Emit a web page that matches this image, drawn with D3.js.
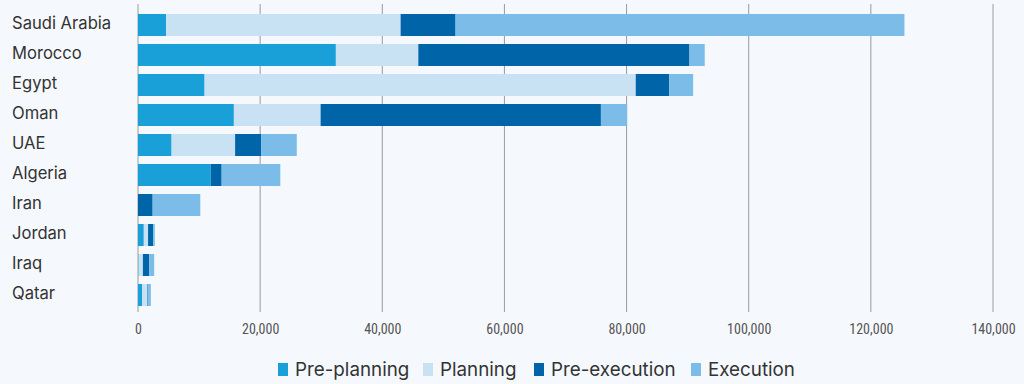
<!DOCTYPE html>
<html><head><meta charset="utf-8">
<script src="https://cdn.jsdelivr.net/npm/d3@7"></script>
<style>
html,body{margin:0;padding:0;background:#f5f9fd;}
svg{display:block;}
</style></head><body>
<svg id="c" width="1024" height="384"></svg>
<script>
const countries = ["Saudi Arabia","Morocco","Egypt","Oman","UAE","Algeria","Iran","Jordan","Iraq","Qatar"];
const seriesNames = ["Pre-planning","Planning","Pre-execution","Execution"];
const prePlanning  = [4600, 32400, 10900, 15700, 5500, 11900, 0, 950, 100, 700];
const planning     = [38400, 13500, 70600, 14200, 10400, 0, 0, 700, 700, 850];
const preExecution = [9000, 44400, 5500, 45900, 4300, 1800, 2400, 850, 1050, 100];
const execution    = [73500, 2500, 3900, 4300, 5800, 9600, 7800, 250, 800, 450];
const xTicks = [0,20000,40000,60000,80000,100000,120000,140000];
const colors = ["#1aa0d8","#c9e2f3","#0064a9","#7bbde8"];

const svg = d3.select("#c");
const x = d3.scaleLinear().domain([0,140000]).range([138,993]);
const y = d3.scaleBand().domain(countries).range([10,310]).paddingInner(0.267).paddingOuter(0.133);

const rows = countries.map((c,i)=>({country:c, "Pre-planning":prePlanning[i], "Planning":planning[i], "Pre-execution":preExecution[i], "Execution":execution[i]}));
const stack = d3.stack().keys(seriesNames)(rows);

// grid
svg.append("g").selectAll("line").data(xTicks).join("line")
  .attr("x1",d=>x(d)).attr("x2",d=>x(d)).attr("y1",4).attr("y2",312)
  .attr("stroke","#9a9a9a").attr("stroke-width",1);

// bars
svg.append("g").selectAll("g").data(stack).join("g")
  .attr("fill",(d,i)=>colors[i])
  .selectAll("rect").data(d=>d).join("rect")
  .attr("x",d=>x(d[0])).attr("width",d=>Math.max(0,x(d[1])-x(d[0])))
  .attr("y",d=>y(d.data.country)).attr("height",y.bandwidth());

// category labels
svg.append("g").selectAll("text").data(countries).join("text")
  .attr("x",12).attr("y",d=>y(d)+y.bandwidth()/2-1.5).attr("dy","0.35em")
  .attr("font-family","Inter, 'Open Sans', sans-serif").attr("font-size",16.6)
  .attr("fill","#333").text(d=>d);

// x axis labels
const ax = d3.axisBottom(x).tickValues(xTicks).tickSize(0).tickFormat(d3.format(","));
const axg = svg.append("g").attr("transform","translate(0,321)").call(ax);
axg.select(".domain").remove();
axg.selectAll("text").attr("font-family","'Liberation Sans Narrow', 'Roboto Condensed', Roboto, sans-serif")
  .attr("font-size",14).attr("fill","#555");

// legend
const legendX = [278,423,534,691];
const lg = svg.append("g").selectAll("g").data(seriesNames).join("g")
  .attr("transform",(d,i)=>`translate(${legendX[i]},369)`);
lg.append("rect").attr("x",0).attr("y",-6).attr("width",10).attr("height",13).attr("fill",(d,i)=>colors[i]);
lg.append("text").attr("x",17).attr("dy","0.35em")
  .attr("font-family","Inter, 'Open Sans', sans-serif").attr("font-size",18.8).attr("fill","#333").text(d=>d);
</script>
</body></html>
